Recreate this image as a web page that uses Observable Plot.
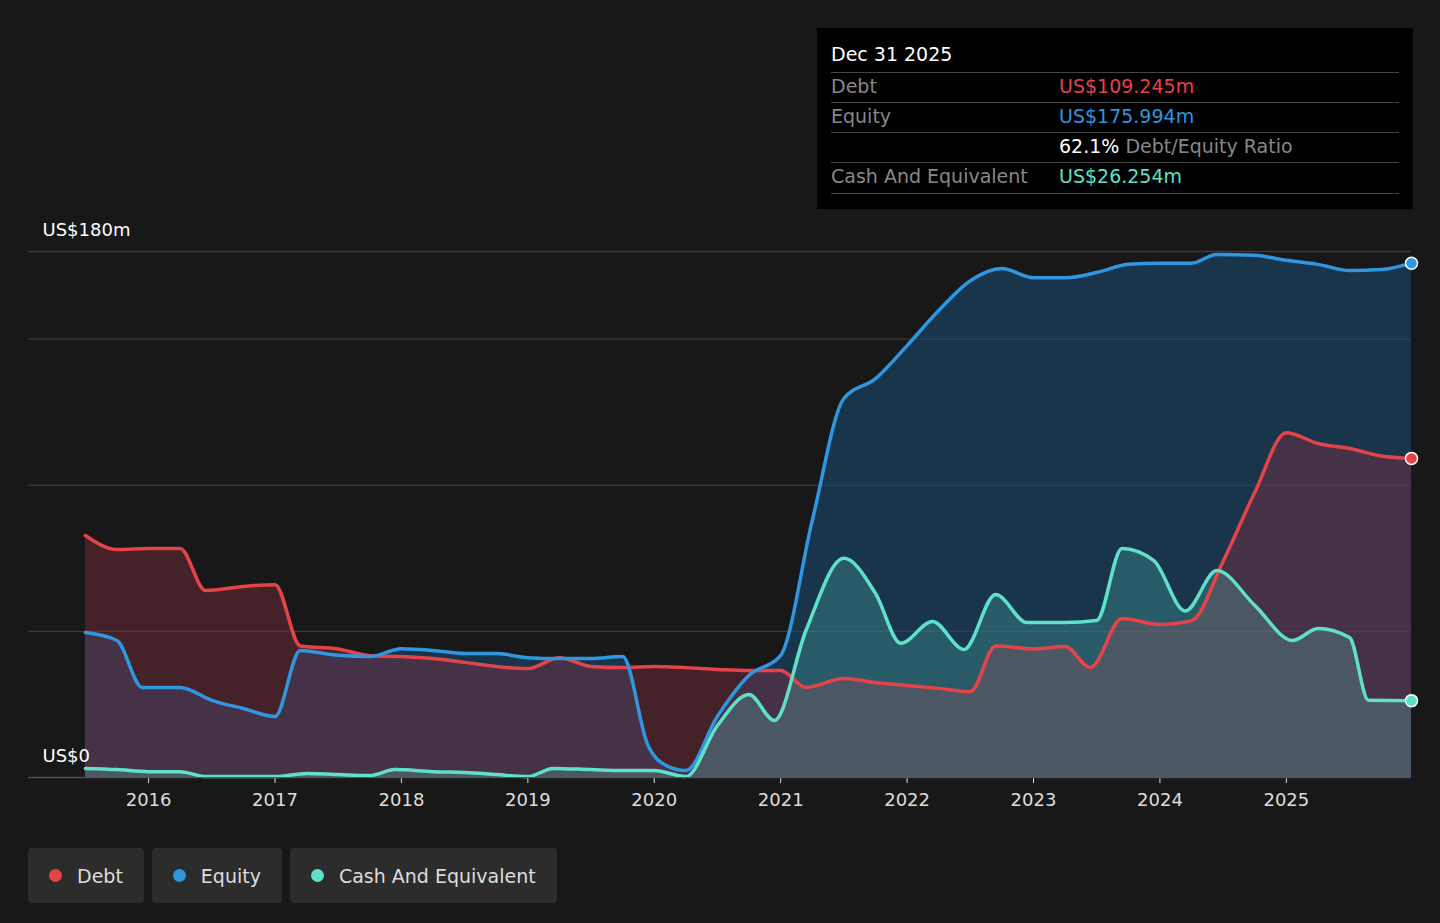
<!DOCTYPE html>
<html><head><meta charset="utf-8">
<script src="https://cdn.jsdelivr.net/npm/d3@7"></script>
<script src="https://cdn.jsdelivr.net/npm/@observablehq/plot@0.6"></script>
<style>
body{margin:0;background:#181818;font-family:"DejaVu Sans",sans-serif;width:1440px;height:923px;overflow:hidden;position:relative}
#tip{position:absolute;left:817px;top:28px;width:596px;height:181px;background:#000;color:#fff;font-size:19px}
.row{position:absolute;left:14px;width:568px;border-bottom:1px solid #444;height:29px}
.row span{position:absolute;top:2px}
#legend{position:absolute;top:848px;left:28px;display:flex;gap:8px}
.lg{background:#2c2c2c;border-radius:4px;height:55px;display:flex;align-items:center;padding:0 21px;color:#ddd;font-size:19px}
.lg i{width:13px;height:13px;border-radius:50%;display:inline-block;margin-right:15px}
</style></head><body>
<div id="chart"></div>
<div id="tip">
 <div class="row" style="top:14px;height:30px"><span style="top:1px">Dec 31 2025</span></div>
 <div class="row" style="top:45px"><span style="color:#888">Debt</span><span style="left:228px;color:#e5434a">US$109.245m</span></div>
 <div class="row" style="top:75px"><span style="color:#888">Equity</span><span style="left:228px;color:#2f96e0">US$175.994m</span></div>
 <div class="row" style="top:105px"><span style="left:228px">62.1% <span style="position:static;color:#888">Debt/Equity Ratio</span></span></div>
 <div class="row" style="top:135px;height:30px"><span style="color:#888">Cash And Equivalent</span><span style="left:228px;color:#5fe0c8">US$26.254m</span></div>
</div>
<div id="legend">
 <div class="lg"><i style="background:#e5434a"></i>Debt</div>
 <div class="lg"><i style="background:#2f96e0"></i>Equity</div>
 <div class="lg"><i style="background:#5fe0c8"></i>Cash And Equivalent</div>
</div>
<script>
const debtT = [2015.5,2015.75,2016,2016.25,2016.45,2016.75,2017,2017.2,2017.5,2017.75,2018,2018.25,2018.5,2018.75,2019,2019.25,2019.5,2019.75,2020,2020.25,2020.5,2020.75,2021,2021.2,2021.5,2021.75,2022,2022.25,2022.5,2022.7,2023,2023.25,2023.45,2023.7,2024,2024.25,2024.5,2024.75,2025,2025.25,2025.5,2025.75,2025.99];
const debtV = [82.8,78,78.4,78.4,64,65.4,66,45,44,41.7,41.4,40.7,39.4,38,37.3,41,38,37.6,38,37.6,37,36.6,36.6,30.8,33.9,32.5,31.5,30.5,29.4,45,44,44.8,37.6,54.4,52.4,53.7,74,97.5,118,114.3,112.6,110,109.2];
const eqT = [2015.5,2015.75,2015.95,2016.25,2016.5,2016.75,2017,2017.2,2017.5,2017.75,2018,2018.25,2018.5,2018.75,2019,2019.25,2019.5,2019.75,2019.95,2020.1,2020.25,2020.5,2020.75,2021,2021.25,2021.5,2021.75,2022,2022.25,2022.5,2022.75,2023,2023.25,2023.5,2023.75,2024,2024.25,2024.45,2024.75,2025,2025.25,2025.5,2025.75,2025.99];
const eqV = [49.6,46.9,30.8,30.8,26.4,23.6,20.9,43.5,41.8,41.4,44.1,43.5,42.4,42.4,41,40.7,40.7,41.4,11,4,2.4,21,35,41.8,88,129.7,136.5,147.8,159.8,170,174.2,171,171,172.8,175.6,176,176,179,178.7,177,175.6,173.5,173.8,176];
const cashT = [2015.5,2015.75,2016,2016.25,2016.45,2016.75,2017,2017.25,2017.5,2017.75,2017.95,2018.25,2018.5,2018.75,2019,2019.2,2019.5,2019.75,2020,2020.25,2020.5,2020.75,2020.95,2021.2,2021.5,2021.75,2021.95,2022.2,2022.45,2022.7,2022.95,2023.25,2023.5,2023.7,2023.95,2024.2,2024.45,2024.75,2025.05,2025.25,2025.5,2025.65,2025.99];
const cashV = [3.1,2.7,2,2,0.3,0.3,0.3,1.4,1,0.7,2.7,2,1.7,1,0.3,3.1,2.7,2.4,2.4,0.3,17.8,28.4,19.5,50.3,75,63,45.9,53.4,43.8,62.6,53,53,53.7,78.4,74.3,57,70.8,58.9,46.9,51,47.9,26.4,26.3];
const yTicks = [0,50,100,150,180];
const years = d3.range(2016,2026);

const debt = debtT.map((t,i)=>({t,v:debtV[i]}));
const eq = eqT.map((t,i)=>({t,v:eqV[i]}));
const cash = cashT.map((t,i)=>({t,v:cashV[i]}));
const C = {debt:"#e5434a", eq:"#2f96e0", cash:"#5fe0c8"};
const curve = "monotone-x";

const chart = Plot.plot({
  width:1440, height:823, marginTop:251, marginBottom:46, marginLeft:28, marginRight:29,
  style:{background:"transparent", color:"#ddd", fontSize:"18px", fontFamily:"DejaVu Sans"},
  x:{domain:[2015.05,2025.99], ticks:years, tickFormat:d=>String(d), tickSize:6, tickPadding:10, label:null},
  y:{domain:[0,180], axis:null},
  marks:[
    Plot.ruleY(yTicks,{stroke:"#3a3a3a", strokeWidth:1.3}),
    Plot.areaY(eq,{x:"t",y:"v",curve,fill:"#1a4a70",fillOpacity:0.6}),
    Plot.areaY(debt,{x:"t",y:"v",curve,fill:"#8a3040",fillOpacity:0.4}),
    Plot.areaY(cash,{x:"t",y:"v",curve,fill:"#5fe0c8",fillOpacity:0.22}),
    Plot.lineY(debt,{x:"t",y:"v",curve,stroke:C.debt,strokeWidth:3.5}),
    Plot.lineY(eq,{x:"t",y:"v",curve,stroke:C.eq,strokeWidth:3.5}),
    Plot.lineY(cash,{x:"t",y:"v",curve,stroke:C.cash,strokeWidth:3.5}),
    Plot.dot([debt.at(-1)],{x:"t",y:"v",r:6,fill:C.debt,stroke:"#fff",strokeWidth:1.5}),
    Plot.dot([eq.at(-1)],{x:"t",y:"v",r:6,fill:C.eq,stroke:"#fff",strokeWidth:1.5}),
    Plot.dot([cash.at(-1)],{x:"t",y:"v",r:6,fill:C.cash,stroke:"#fff",strokeWidth:1.5}),
    Plot.text([{v:180,l:"US$180m"},{v:0,l:"US$0"}],{x:2015.05,y:"v",text:"l",dx:14,dy:-21,textAnchor:"start",fill:"#fff",fontSize:18}),
    Plot.ruleY([0],{stroke:"#555"})
  ]
});
document.getElementById("chart").append(chart);
</script></body></html>
